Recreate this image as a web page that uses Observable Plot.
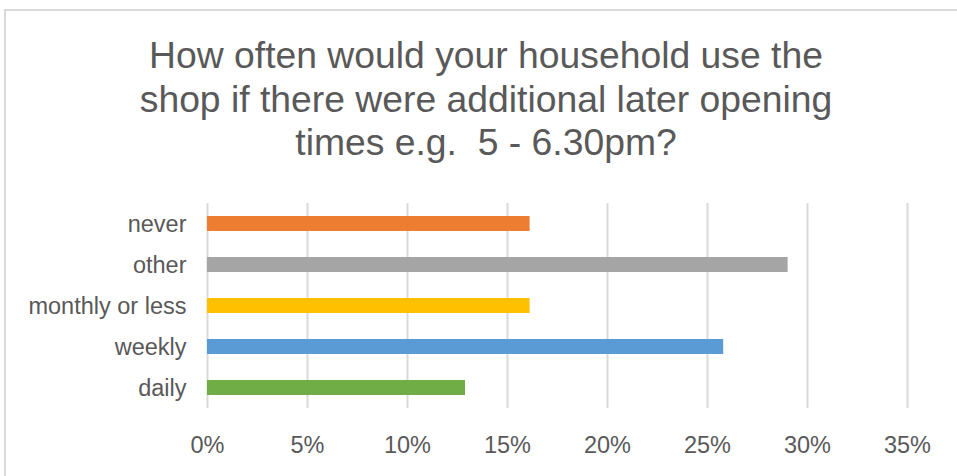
<!DOCTYPE html>
<html>
<head>
<meta charset="utf-8">
<script src="https://cdn.jsdelivr.net/npm/d3@7"></script>
<script src="https://cdn.jsdelivr.net/npm/@observablehq/plot@0.6"></script>
<style>
  html, body { margin: 0; padding: 0; background: #fff; }
  #frame { position: relative; width: 957px; height: 476px; overflow: hidden; font-family: "Liberation Sans", Arial, sans-serif; }
  #border { position: absolute; left: 4px; top: 9px; width: 980px; height: 500px; border: 2px solid #d9d9d9; box-sizing: border-box; }
  #title { position: absolute; left: 4px; width: 964px; top: 34px; text-align: center; color: #595959; font-size: 37.3px; line-height: 43.5px; white-space: pre; }
  #chart { position: absolute; left: 0; top: 176px; }
</style>
</head>
<body>
<div id="frame">
  <div id="border"></div>
  <div id="title"></div>
  <div id="chart"></div>
</div>
<script>
const titleLines = ["How often would your household use the", "shop if there were additional later opening", "times e.g.  5 - 6.30pm?"];
const categories = ["never", "other", "monthly or less", "weekly", "daily"];
const values = [0.1613, 0.2903, 0.1613, 0.2581, 0.1290];
const colors = ["#ED7D31", "#A5A5A5", "#FFC000", "#5B9BD5", "#70AD47"];
const xTicks = [0, 0.05, 0.10, 0.15, 0.20, 0.25, 0.30, 0.35];

document.getElementById("title").textContent = titleLines.join("\n");

const data = categories.map((c, i) => ({category: c, value: values[i], color: colors[i]}));

const chart = Plot.plot({
  width: 957,
  height: 300,
  marginLeft: 207,
  marginRight: 50,
  marginTop: 27,
  marginBottom: 68,
  style: {fontFamily: "'Liberation Sans', Arial, sans-serif", fontSize: "23.5px", color: "#595959", background: "transparent"},
  x: {domain: [0, 0.35], ticks: xTicks, tickFormat: d => Math.round(d * 100) + "%", tickSize: 0, tickPadding: 28, label: null},
  y: {domain: categories, paddingInner: 0.63, paddingOuter: 0.315, tickSize: 0, tickPadding: 21, label: null},
  marks: [
    Plot.gridX(xTicks, {stroke: "#d9d9d9", strokeWidth: 2, strokeOpacity: 1}),
    Plot.barX(data, {x: "value", y: "category", fill: "color"}),
    Plot.axisX({ticks: xTicks, tickFormat: d => Math.round(d * 100) + "%", tickSize: 0, tickPadding: 28, label: null}),
    Plot.axisY({tickSize: 0, tickPadding: 21, label: null})
  ]
});
document.getElementById("chart").appendChild(chart);
</script>
</body>
</html>
